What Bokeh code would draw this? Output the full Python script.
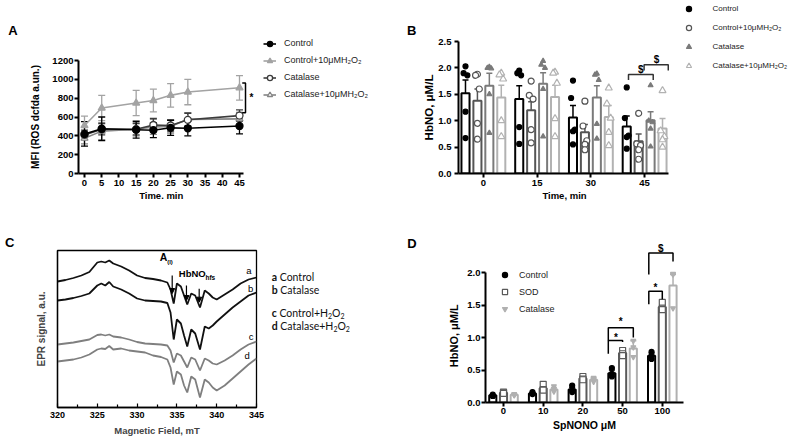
from bokeh.plotting import figure
from bokeh.layouts import row, column
from bokeh.models import (ColumnDataSource, Whisker, TeeHead, Label, Legend, LegendItem,
                          FixedTicker, Range1d, Arrow, NormalHead, Div, Spacer)
from bokeh.embed import file_html
from bokeh.resources import INLINE

FONT = "Liberation Sans"
NB = "\u00a0"

# ---------------- Panel A data ----------------
a_time = [0, 5, 15, 20, 25, 30, 45]
a_ctrl = [420, 475, 465, 460, 485, 480, 505]
a_ctrl_err = [130, 125, 90, 80, 80, 80, 85]
a_ctrlh = [510, 695, 748, 775, 830, 865, 910]
a_ctrlh_err = [100, 134, 134, 121, 125, 135, 130]
a_cat = [410, 470, 470, 515, 510, 570, 615]
a_cat_err = [50, 60, 60, 70, 60, 70, 60]
a_cath = [375, 450, 470, 495, 500, 575, 580]
a_cath_err = [60, 90, 70, 80, 70, 70, 70]
a_xticks = [0, 5, 10, 15, 20, 25, 30, 35, 40, 45]
a_yticks = [0, 200, 400, 600, 800, 1000, 1200]
a_sig = dict(x_in=45.8, x_out=46.75, y_top=960, y_bot=645, text="*", tx=48.5, ty=803)

# ---------------- Panel B data ----------------
b_groups = ["0", "15", "30", "45"]
b_ctrl = [1.52, 1.41, 1.06, 0.89]
b_ctrl_err = [0.25, 0.25, 0.23, 0.20]
b_ctrlh = [1.38, 1.20, 0.78, 0.61]
b_ctrlh_err = [0.22, 0.16, 0.15, 0.14]
b_cat = [1.66, 1.70, 1.44, 1.01]
b_cat_err = [0.24, 0.21, 0.22, 0.16]
b_cath = [1.44, 1.45, 1.07, 0.85]
b_cath_err = [0.23, 0.22, 0.22, 0.19]
b_ctrl_pts = [[2.03, 1.90, 1.86, 1.17, 0.67], [1.95, 1.90, 1.86, 0.88, 0.56],
              [1.76, 1.43, 0.83, 0.80, 0.55], [1.63, 1.05, 0.72, 0.69, 0.47]]
b_ctrlh_pts = [[1.88, 1.86, 1.60, 0.95, 0.65], [1.75, 1.48, 1.41, 0.83, 0.58],
               [1.37, 0.90, 0.62, 0.55, 0.45], [1.14, 0.56, 0.53, 0.45, 0.27]]
b_cat_pts = [[2.02, 2.00, 1.99, 1.50, 0.77], [2.13, 2.06, 2.00, 1.60, 0.70],
             [1.89, 1.87, 1.77, 0.94, 0.66], [1.67, 1.00, 0.97, 0.85, 0.51]]
b_cath_pts = [[1.90, 1.87, 1.79, 1.00, 0.70], [1.92, 1.90, 1.71, 1.04, 0.70],
              [1.62, 1.32, 1.05, 0.78, 0.53], [1.57, 0.81, 0.70, 0.64, 0.50]]
b_yticks = [0, 0.5, 1.0, 1.5, 2.0, 2.5]
# brackets: (x_left, x_right, y, drop_left, drop_right, text, text_x, text_y)
b_sig = [(2.70, 3.16, 1.875, 1.77, 1.77, "$", 2.93, 1.97),
         (2.99, 3.44, 2.06, 1.95, 1.95, "$", 3.22, 2.15)]

# ---------------- Panel C data (EPR spectra) ----------------
epr_field = [320, 321, 322, 323, 324, 325, 325.5, 326, 326.5, 327, 328, 329, 330, 331, 332, 333,
             333.8, 334.2, 334.6, 335.0, 335.5, 335.9, 336.3, 336.8, 337.3, 337.9, 338.5, 339.0,
             339.5, 340.0, 341, 342, 343, 344, 345]
epr_a = [126, 127.5, 129.5, 132, 135.5, 145, 146, 145, 147, 144, 141, 137, 132, 129.5, 128.5, 127,
         125, 118, 104, 124, 121, 112, 103, 114, 112, 100, 117, 114, 110, 108, 113, 118, 124, 128, 130]
epr_b = [107, 108, 109.5, 111.5, 114, 122, 124, 122, 125.5, 121, 118, 114, 109, 107, 106.5, 106,
         104.5, 95, 68, 88, 84, 72, 61, 78, 74, 58, 81, 79, 82, 86, 93, 100, 106, 112, 115]
epr_c = [63, 64, 65, 66.5, 68, 72.5, 73, 72, 73, 71, 70, 68, 65.5, 64, 63.5, 63,
         62, 57, 45, 54, 52, 46, 40, 50, 48, 37, 49, 47, 44, 43, 47, 52, 58, 63, 66]
epr_d = [46, 47, 48, 50, 53, 58, 59, 58.5, 61.5, 58, 59, 57, 56, 55, 52, 50.5,
         48, 40, 23, 36, 33, 22, 15, 31, 28, 10, 28, 25, 20, 17, 22, 29, 36, 43, 49]
c_xticks = [320, 325, 330, 335, 340, 345]
c_minor = [322.5, 327.5, 332.5, 337.5, 342.5]
hfs_arrows = [(334.41, 132, 114), (336.2, 122, 107), (337.8, 118.7, 105.3)]
c_curve_tags = [("a", 344.03, 137), ("b", 344.25, 118.7), ("c", 344.33, 71), ("d", 343.83, 52)]
SUB = '<sub style="font-size:7px;line-height:0;vertical-align:-2px;">2</sub>'
c_legend = [("a", "Control"), ("b", "Catalase"),
            ("c", f"Control+H{SUB}O{SUB}"), ("d", f"Catalase+H{SUB}O{SUB}")]

# ---------------- Panel D data ----------------
d_groups = ["0", "10", "20", "50", "100"]
d_ctrl = [0.11, 0.14, 0.20, 0.45, 0.72]
d_ctrl_err = [0.01, 0.01, 0.03, 0.05, 0.04]
d_sod = [0.15, 0.22, 0.37, 0.76, 1.47]
d_sod_err = [0.01, 0.03, 0.02, 0.03, 0.04]
d_cat = [0.12, 0.20, 0.35, 0.83, 1.80]
d_cat_err = [0.01, 0.03, 0.03, 0.12, 0.17]
d_ctrl_pts = [[0.12, 0.10, 0.10], [0.16, 0.14, 0.13], [0.26, 0.19, 0.16], [0.53, 0.44, 0.40], [0.78, 0.72, 0.67]]
d_sod_pts = [[0.16, 0.15, 0.14], [0.28, 0.20, 0.19], [0.40, 0.36, 0.35], [0.80, 0.75, 0.72], [1.54, 1.45, 1.43]]
d_cat_pts = [[0.13, 0.12, 0.11], [0.25, 0.19, 0.17], [0.38, 0.35, 0.32], [0.95, 0.85, 0.70], [1.98, 1.97, 1.45]]
d_yticks = [0, 0.5, 1.0, 1.5, 2.0]
d_sig = [(2.64, 3.0, 0.954, 0.75, 0.93, "*", 2.83, 1.0),
         (2.64, 3.27, 1.15, 0.954, 1.0, "*", 2.95, 1.24),
         (3.66, 4.0, 1.71, 1.51, 1.59, "*", 3.83, 1.77),
         (3.66, 4.27, 2.30, 1.97, 2.17, "$", 3.96, 2.37)]


def make_fig(w, h, left, right, top, bottom, xr, yr):
    p = figure(width=w, height=h, x_range=Range1d(*xr), y_range=Range1d(*yr),
               min_border_left=left, min_border_right=right, min_border_top=top,
               min_border_bottom=bottom, output_backend="svg", toolbar_location=None)
    p.xgrid.visible = False
    p.ygrid.visible = False
    p.outline_line_color = None
    for ax in (p.xaxis[0], p.yaxis[0]):
        ax.axis_line_width = 2
        ax.axis_line_color = "black"
        ax.major_tick_line_width = 2
        ax.major_tick_line_color = "black"
        ax.major_tick_out = 4
        ax.major_tick_in = 0
        ax.minor_tick_line_color = None
        ax.major_label_text_font = FONT
        ax.major_label_text_font_style = "bold"
        ax.major_label_text_font_size = "9.5px"
        ax.major_label_text_color = "black"
        ax.axis_label_text_font = FONT
        ax.axis_label_text_font_style = "bold"
        ax.axis_label_text_color = "black"
    return p


def legend_fig(w, h, top, bottom):
    # a panel that only carries a legend; its data range is far from the data so the
    # swatch renderers themselves stay out of view
    p = figure(width=w, height=h, x_range=Range1d(1000, 1001), y_range=Range1d(1000, 1001),
               min_border_left=0, min_border_right=0, min_border_top=top, min_border_bottom=bottom,
               x_axis_type=None, y_axis_type=None, output_backend="svg", toolbar_location=None)
    p.outline_line_color = None
    return p


def lab(p, x, y, text, size, bold=True, align="center", font=FONT, color="black", baseline="middle"):
    p.add_layout(Label(x=x, y=y, text=text, text_font=font, text_font_size=size,
                       text_font_style="bold" if bold else "normal", text_align=align,
                       text_baseline=baseline, text_color=color))


def whisk(p, xs, means, errs, color, size=6, lw=1.3):
    src = ColumnDataSource(dict(x=xs, lo=[m - e for m, e in zip(means, errs)],
                                hi=[m + e for m, e in zip(means, errs)]))
    p.add_layout(Whisker(source=src, base="x", lower="lo", upper="hi", line_color=color,
                         line_width=lw,
                         upper_head=TeeHead(size=size, line_color=color, line_width=lw),
                         lower_head=TeeHead(size=size, line_color=color, line_width=lw)))


def bracket(p, x0, x1, y, yl, yr, color="black", lw=1.5):
    p.line([x0, x0, x1, x1], [yl, y, y, yr], line_color=color, line_width=lw)


def letter_div(letter, w, h, left, top):
    html = (f'<div style="padding-left:{left}px;padding-top:{top}px;font-family:\'{FONT}\';'
            f'font-weight:bold;font-size:13px;line-height:13px;color:#000;">{letter}</div>')
    return Div(text=html, width=w, height=h, margin=0)


# ======================= Panel A =======================
pA = make_fig(234, 164, 58, 0, 4, 47, (-1.742, 49.36), (0, 1200))
pA.xaxis.ticker = FixedTicker(ticks=a_xticks)
pA.yaxis.ticker = FixedTicker(ticks=a_yticks)
pA.xaxis.bounds = (-1.742, 46.2)
pA.xaxis.axis_label = "Time. min" + NB * 4
pA.yaxis.axis_label = "MFI (ROS dcfda a.un.)"
pA.xaxis.axis_label_text_font_size = "9.5px"
pA.yaxis.axis_label_text_font_size = "10px"
pA.xaxis.major_label_standoff = 2
pA.xaxis.axis_label_standoff = 1
pA.yaxis.major_label_standoff = 1
pA.yaxis.axis_label_standoff = 8

a_series = [
    ("Control", a_ctrl, a_ctrl_err, "#000000", "circle", True),
    ("Control+10μMH₂O₂", a_ctrlh, a_ctrlh_err, "#a3a3a3", "triangle", True),
    ("Catalase", a_cat, a_cat_err, "#3c3c3c", "circle", False),
    ("Catalase+10μMH₂O₂", a_cath, a_cath_err, "#858585", "triangle", False),
]
lgA = legend_fig(146, 196, 4, 47)
a_items = {}
for idx in [1, 3, 2, 0]:
    name, m, e, c, mk, filled = a_series[idx]
    pA.line(a_time, m, line_color=c, line_width=1.6)
    pA.scatter(a_time, m, marker=mk, size=7, line_color=c, line_width=1.3,
               fill_color=c if filled else "white")
    whisk(pA, a_time, m, e, c, size=7, lw=1.3)
    # legend swatches: same series, in the legend panel (out of its view)
    ln = lgA.line(a_time, m, line_color=c, line_width=1.6)
    sc = lgA.scatter(a_time, m, marker=mk, size=7, line_color=c, line_width=1.3,
                     fill_color=c if filled else "white")
    a_items[idx] = LegendItem(label=name, renderers=[ln, sc])
legA = Legend(items=[a_items[i] for i in range(4)], location=(9, 72.5),
              glyph_width=13, glyph_height=13, label_height=13, spacing=4,
              label_standoff=8, padding=0, margin=0, border_line_color=None,
              background_fill_alpha=0, label_text_font=FONT, label_text_font_size="9px",
              label_text_color="#222222")
lgA.add_layout(legA)
pA.line([a_sig["x_in"], a_sig["x_out"], a_sig["x_out"], a_sig["x_in"]],
        [a_sig["y_top"], a_sig["y_top"], a_sig["y_bot"], a_sig["y_bot"]],
        line_color="black", line_width=1.5)
lab(pA, a_sig["tx"], a_sig["ty"], a_sig["text"], "10px")

# ======================= Panel B =======================
pB = make_fig(250, 183, 37, 0, 4, 47, (-0.463, 3.4815), (0, 2.5))
pB.xaxis.ticker = FixedTicker(ticks=list(range(len(b_groups))))
pB.xaxis.major_label_overrides = {i: g for i, g in enumerate(b_groups)}
pB.yaxis.ticker = FixedTicker(ticks=b_yticks)
pB.yaxis.major_label_overrides = {t: f"{t:.1f}" for t in b_yticks}
pB.xaxis.bounds = (-0.463, 3.44)
pB.xaxis.axis_label = "Time, min"
pB.yaxis.axis_label = "HbNO, μM/L"
pB.xaxis.axis_label_text_font_size = "9.5px"
pB.yaxis.axis_label_text_font_size = "11.5px"
pB.xaxis.major_label_standoff = 2
pB.xaxis.axis_label_standoff = 1
pB.yaxis.major_label_standoff = 3
pB.yaxis.axis_label_standoff = 0

b_offsets = [-0.333, -0.111, 0.111, 0.333]
b_jit = [0.0, -0.035, 0.035, 0.0, 0.0]
b_series = [
    ("Control", b_ctrl, b_ctrl_err, b_ctrl_pts, "#000000", "circle", True, 5),
    ("Control+10μMH₂O₂", b_ctrlh, b_ctrlh_err, b_ctrlh_pts, "#555555", "circle", False, 6),
    ("Catalase", b_cat, b_cat_err, b_cat_pts, "#7a7a7a", "triangle", True, 5),
    ("Catalase+10μMH₂O₂", b_cath, b_cath_err, b_cath_pts, "#b2b2b2", "triangle", False, 7),
]
lgB = legend_fig(118, 220, 4, 47)
b_items = []
for k, (name, m, e, pts, c, mk, filled, sz) in enumerate(b_series):
    xs = [i + b_offsets[k] for i in range(len(m))]
    pB.vbar(x=xs, top=m, width=0.15, bottom=0, fill_color="white", line_color=c, line_width=2)
    whisk(pB, xs, m, e, c, size=6, lw=1.5)
    px, py = [], []
    for i, grp in enumerate(pts):
        for j, v in enumerate(grp):
            px.append(xs[i] + b_jit[j % len(b_jit)])
            py.append(v)
    pB.scatter(px, py, marker=mk, size=sz, line_color=c, line_width=1.2,
               fill_color=c if filled else "white")
    sc = lgB.scatter(px, py, marker=mk, size=sz, line_color=c, line_width=1.2,
                     fill_color=c if filled else "white")
    b_items.append(LegendItem(label=name, renderers=[sc]))
legB = Legend(items=b_items, location=(11.5, 101), glyph_width=13, glyph_height=13,
              label_height=13, spacing=6, label_standoff=18, padding=0, margin=0,
              border_line_color=None, background_fill_alpha=0, label_text_font=FONT,
              label_text_font_size="8px", label_text_color="#222222")
lgB.add_layout(legB)
for (x0, x1, y, yl, yr, t, tx, ty) in b_sig:
    bracket(pB, x0, x1, y, yl, yr, color="#333333")
    lab(pB, tx, ty, t, "10px")

# ======================= Panel C =======================
pC = figure(width=250, height=209, x_range=Range1d(320, 345), y_range=Range1d(0, 157),
            min_border_left=42, min_border_right=9, min_border_top=21, min_border_bottom=31,
            output_backend="svg", toolbar_location=None)
pC.xgrid.visible = False
pC.ygrid.visible = False
pC.outline_line_color = "black"
pC.outline_line_width = 1.3
xa = pC.xaxis[0]
xa.ticker = FixedTicker(ticks=c_xticks, minor_ticks=c_minor)
xa.axis_line_width = 1.3
xa.major_tick_in = 4
xa.major_tick_out = 0
xa.minor_tick_in = 3
xa.minor_tick_out = 0
xa.major_tick_line_width = 1.2
xa.minor_tick_line_width = 1.2
xa.major_label_text_font = FONT
xa.major_label_text_font_style = "bold"
xa.major_label_text_font_size = "9px"
xa.major_label_text_color = "black"
xa.major_label_standoff = 4
xa.axis_label = "Magnetic Field, mT"
xa.axis_label_text_font = FONT
xa.axis_label_text_font_style = "bold"
xa.axis_label_text_font_size = "9.5px"
xa.axis_label_standoff = 4
ya = pC.yaxis[0]
ya.ticker = FixedTicker(ticks=[])
ya.major_tick_out = 0
ya.axis_line_width = 1.3
ya.axis_label = "EPR signal, a.u."
ya.axis_label_text_font = FONT
ya.axis_label_text_font_style = "bold"
ya.axis_label_text_font_size = "10px"
ya.axis_label_standoff = 11

for ys, c in [(epr_a, "#111111"), (epr_b, "#111111"), (epr_c, "#7f7f7f"), (epr_d, "#7f7f7f")]:
    pC.line(epr_field, ys, line_color=c, line_width=1.8)
for (xv, y0, y1) in hfs_arrows:
    pC.add_layout(Arrow(end=NormalHead(size=5, fill_color="black", line_color="black"),
                        x_start=xv, y_start=y0, x_end=xv, y_end=y1,
                        line_color="black", line_width=1.2))
lab(pC, 332.85, 150.3, "A", "10.5px", align="left")
lab(pC, 333.78, 146, "(l)", "6px", align="left")
lab(pC, 335.24, 133.7, "HbNO", "9.5px", align="left")
lab(pC, 338.59, 130, "hfs", "6.5px", align="left")
for (t, xv, yv) in c_curve_tags:
    lab(pC, xv, yv, t, "9.5px", bold=False)

rows_html = []
row_h = [13, 13, 14, 13]
gap_before = [51.2, 0, 9.3, 0]
for (letter, rest), hh, gb in zip(c_legend, row_h, gap_before):
    rows_html.append(f'<div style="margin-top:{gb}px;height:{hh}px;line-height:{hh}px;white-space:nowrap;">'
                     f'<b>{letter}</b> {rest}</div>')
divLegC = Div(text=('<div style="padding-left:6.7px;font-family:Lato;font-size:10.5px;color:#111;">'
                    + "".join(rows_html) + '</div>'), width=135, height=218, margin=0)

# ======================= Panel D =======================
pD = make_fig(368, 213, 65, 105, 21, 31, (-0.4534, 4.534), (0, 2.477))
pD.xaxis.ticker = FixedTicker(ticks=list(range(len(d_groups))))
pD.xaxis.major_label_overrides = {i: g for i, g in enumerate(d_groups)}
pD.yaxis.ticker = FixedTicker(ticks=d_yticks)
pD.yaxis.major_label_overrides = {t: f"{t:.1f}" for t in d_yticks}
pD.yaxis.bounds = (0, 2.0)
pD.xaxis.axis_label = "SpNONO μM"
pD.yaxis.axis_label = "HbNO, μM/L" + NB * 9
pD.xaxis.axis_label_text_font_size = "10.5px"
pD.yaxis.axis_label_text_font_size = "11px"
pD.xaxis.major_label_standoff = 1
pD.xaxis.axis_label_standoff = 2
pD.yaxis.major_label_standoff = 1
pD.yaxis.axis_label_standoff = 4

d_offsets = [-0.27, 0.0, 0.27]
d_series = [
    ("Control", d_ctrl, d_ctrl_err, d_ctrl_pts, "#000000", "circle", True, 5),
    ("SOD", d_sod, d_sod_err, d_sod_pts, "#5a5a5a", "square", False, 6),
    ("Catalase", d_cat, d_cat_err, d_cat_pts, "#b0b0b0", "inverted_triangle", True, 5),
]
d_items = []
for k, (name, m, e, pts, c, mk, filled, sz) in enumerate(d_series):
    xs = [i + d_offsets[k] for i in range(len(m))]
    pD.vbar(x=xs, top=m, width=0.18, bottom=0, fill_color="white", line_color=c, line_width=2)
    whisk(pD, xs, m, e, c, size=6, lw=1.5)
    px, py = [], []
    for i, grp in enumerate(pts):
        for v in grp:
            px.append(xs[i])
            py.append(v)
    sc = pD.scatter(px, py, marker=mk, size=sz, line_color=c, line_width=1.2,
                    fill_color=c if filled else "white")
    d_items.append(LegendItem(label=name, renderers=[sc]))
legD = Legend(items=d_items, location=(13, 87), glyph_width=13, glyph_height=13,
              label_height=13, spacing=4, label_standoff=8, padding=0, margin=0,
              border_line_color=None, background_fill_alpha=0, label_text_font=FONT,
              label_text_font_size="9px", label_text_color="#222222")
pD.add_layout(legD)
for (x0, x1, y, yl, yr, t, tx, ty) in d_sig:
    bracket(pD, x0, x1, y, yl, yr)
    lab(pD, tx, ty, t, "10px")

# ======================= Layout =======================
row1 = row(letter_div("A", 20, 220, 8.3, 24.3),
           column(Spacer(width=234, height=56), pA),
           column(Spacer(width=146, height=24), lgA),
           letter_div("B", 20, 220, 7, 24),
           column(Spacer(width=250, height=37), pB),
           lgB)
row2 = row(letter_div("C", 15, 218, 5, 16.3),
           column(Spacer(width=250, height=9), pC),
           divLegC,
           letter_div("D", 20, 218, 7.3, 16.6),
           pD)
layout = column(row1, row2)
open("out.html", "w").write(file_html(layout, INLINE))
